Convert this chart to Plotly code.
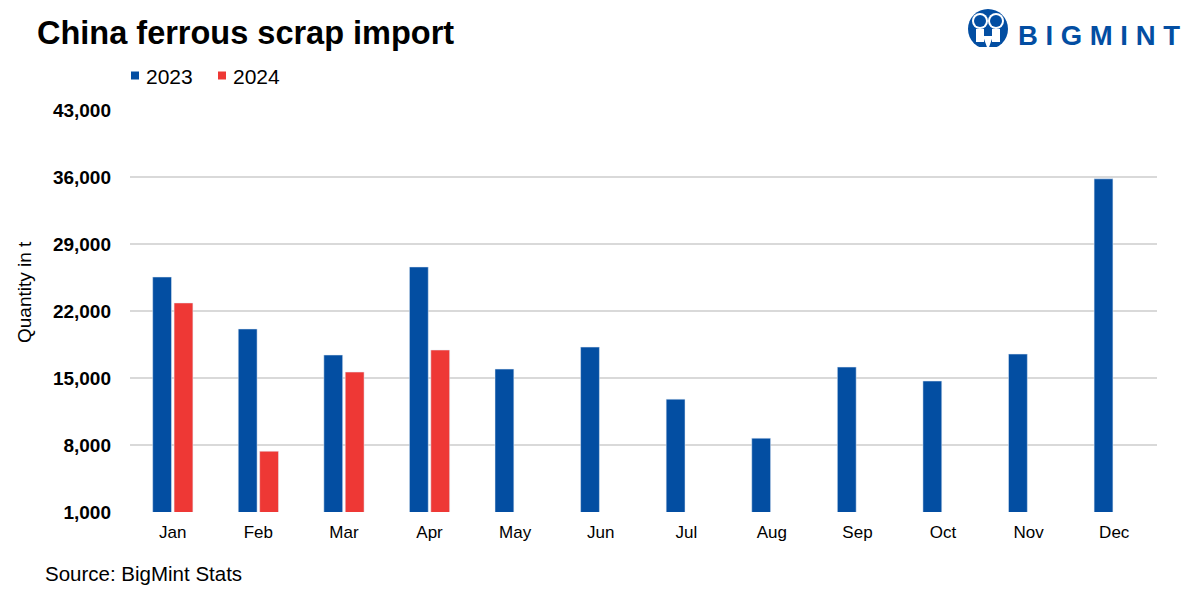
import plotly.graph_objects as go

# ---- data ----
months = ["Jan", "Feb", "Mar", "Apr", "May", "Jun", "Jul", "Aug", "Sep", "Oct", "Nov", "Dec"]
values_2023 = [25550, 20120, 17400, 26600, 15930, 18230, 12790, 8710, 16140, 14680, 17500, 35810]
values_2024 = [22840, 7350, 15620, 17920, None, None, None, None, None, None, None, None]
series_names = ["2023", "2024"]
y_ticks = [1000, 8000, 15000, 22000, 29000, 36000, 43000]

BLUE = "#034EA2"
RED = "#EE3835"
FONT = "Liberation Sans, Arial, sans-serif"

# page has an 8px body margin; work in reference (window) pixel coords
OFF = 8
W, H = 1200 - 2 * OFF, 600 - 2 * OFF
PL, PR, PT, PB = 130, 1157, 110, 512          # plot area in window px
ML, MR, MT, MB = PL - OFF, (W + OFF) - PR, PT - OFF, (H + OFF) - PB
PW, PH = PR - PL, PB - PT


def px_x(x):
    return (x - PL) / PW


def px_y(y):
    return (PB - y) / PH


fig = go.Figure()
fig.add_trace(go.Bar(name=series_names[0], x=months, y=values_2023, marker_color=BLUE))
fig.add_trace(go.Bar(name=series_names[1], x=months, y=values_2024, marker_color=RED))

fig.update_layout(
    width=W, height=H,
    margin=dict(l=ML, r=MR, t=MT, b=MB),
    paper_bgcolor="white", plot_bgcolor="white",
    barmode="group", bargap=0.5, bargroupgap=0.12,
    font=dict(family=FONT, color="#000000"),
    showlegend=False,
    title=dict(text="<b>China ferrous scrap import</b>", xref="container", yref="container",
               x=(37 - OFF) / W, y=1 - (33 - OFF) / H, xanchor="left", yanchor="middle",
               font=dict(size=32.5, family=FONT, color="#000")),
    xaxis=dict(showgrid=False, showline=False, ticks="", zeroline=False, ticklabelstandoff=8,
               tickfont=dict(size=17, family=FONT, color="#000")),
    yaxis=dict(range=[1000, 43000], tickvals=y_ticks, tickformat=",d",
               showgrid=True, gridcolor="#D9D9D9", gridwidth=1.5, zeroline=False,
               showline=False, ticks="", ticklabelstandoff=18,
               tickfont=dict(size=19, family=FONT, color="#000", weight="bold")),
)

# custom legend (small squares + labels)
leg_items = [(series_names[0], BLUE, 131, 145), (series_names[1], RED, 218, 232)]
for name, col, sx, tx in leg_items:
    fig.add_shape(type="rect", xref="paper", yref="paper",
                  x0=px_x(sx), x1=px_x(sx + 8), y0=px_y(79.5), y1=px_y(71.5),
                  fillcolor=col, line=dict(width=0))
    fig.add_annotation(text=name, xref="paper", yref="paper", x=px_x(tx - 1), y=px_y(76),
                       showarrow=False, xanchor="left", yanchor="middle",
                       font=dict(size=21, family=FONT, color="#000"))

# y-axis title
fig.add_annotation(text="Quantity in t", xref="paper", yref="paper", x=px_x(24), y=px_y(292),
                   textangle=-90, showarrow=False, xanchor="center", yanchor="middle",
                   font=dict(size=19, family=FONT, color="#000"))

# source
fig.add_annotation(text="Source: BigMint Stats", xref="paper", yref="paper", x=px_x(43), y=px_y(573),
                   showarrow=False, xanchor="left", yanchor="middle",
                   font=dict(size=20.5, family=FONT, color="#000"))

# logo text
fig.add_annotation(text="<b>" + " ".join("BIGMINT") + "</b>", xref="paper", yref="paper",
                   x=px_x(1182), y=px_y(35), showarrow=False, xanchor="right", yanchor="middle",
                   font=dict(size=27.5, family=FONT, color=BLUE))

# logo icon (simple shapes)
cx, cy, r = 988, 29, 20
fig.add_shape(type="circle", xref="paper", yref="paper",
              x0=px_x(cx - r), x1=px_x(cx + r), y0=px_y(cy + r), y1=px_y(cy - r),
              fillcolor=BLUE, line=dict(width=0))
for hx in (980, 996):
    fig.add_shape(type="circle", xref="paper", yref="paper",
                  x0=px_x(hx - 8), x1=px_x(hx + 8), y0=px_y(21 + 8), y1=px_y(21 - 8),
                  fillcolor="white", line=dict(width=0))
    fig.add_shape(type="circle", xref="paper", yref="paper",
                  x0=px_x(hx - 6), x1=px_x(hx + 6), y0=px_y(21 + 6), y1=px_y(21 - 6),
                  fillcolor=BLUE, line=dict(width=0))
    fig.add_shape(type="rect", xref="paper", yref="paper",
                  x0=px_x(hx - 4), x1=px_x(hx + 4), y0=px_y(42), y1=px_y(29),
                  fillcolor="white", line=dict(width=0))
fig.add_shape(type="path", xref="paper", yref="paper",
              path="M {:.5f},{:.5f} L {:.5f},{:.5f} L {:.5f},{:.5f} Z".format(
                  px_x(983), px_y(36), px_x(993), px_y(36), px_x(988), px_y(50)),
              fillcolor="white", line=dict(width=0))
fig.add_shape(type="rect", xref="paper", yref="paper",
              x0=px_x(cx - r), x1=px_x(cx + r), y0=px_y(52), y1=px_y(47),
              fillcolor="white", line=dict(width=0))

fig.write_html("out.html")
